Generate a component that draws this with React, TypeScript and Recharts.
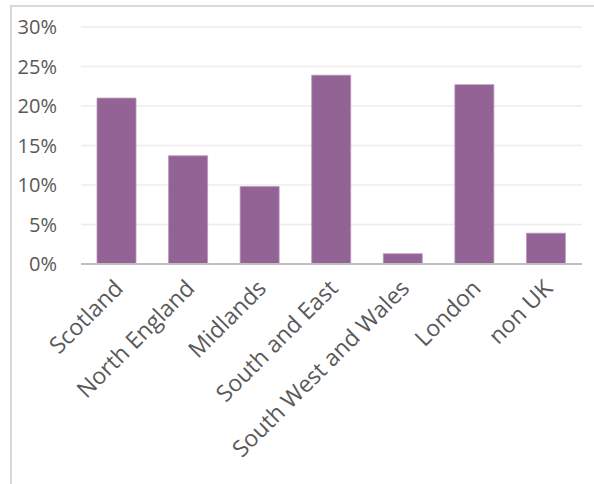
import React from "react";
import { BarChart, Bar, XAxis, YAxis, CartesianGrid } from "recharts";

const categories = ["Scotland", "North England", "Midlands", "South and East", "South West and Wales", "London", "non UK"];
const shares = [0.21, 0.137, 0.098, 0.239, 0.013, 0.227, 0.039];
const yTicks = [0, 0.05, 0.1, 0.15, 0.2, 0.25, 0.3];

const data = categories.map((name, i) => ({ name, value: shares[i] }));

const FONT = "'Open Sans', Lato, sans-serif";

const XTick = (props: any) => {
  const { x, y, payload } = props;
  return (
    <g transform={`translate(${x + 2},${y + 12}) rotate(-45)`}>
      <text x={0} y={0} dy="0.35em" textAnchor="end" fill="#595959" fontSize={23} fontFamily={FONT}>
        {payload.value}
      </text>
    </g>
  );
};

export default function App() {
  return (
    <div style={{ position: "absolute", left: 0, top: 0, width: 594, height: 484, background: "#fff" }}>
      <div
        style={{
          position: "absolute",
          left: 10,
          top: 5,
          width: 600,
          height: 500,
          borderLeft: "2px solid #d9d9d9",
          borderTop: "2px solid #d9d9d9",
        }}
      />
      <div style={{ position: "absolute", left: 0, top: 0 }}>
        <BarChart
          width={594}
          height={484}
          data={data}
          margin={{ top: 27, right: 12, left: 0, bottom: 0 }}
          barSize={39}
        >
          <CartesianGrid vertical={false} stroke="#ececec" strokeWidth={1.5} />
          <YAxis
            width={81}
            domain={[0, 0.3]}
            ticks={yTicks}
            tickFormatter={(v: number) => `${Math.round(v * 100)}%`}
            axisLine={false}
            tickLine={false}
            tickSize={0}
            tickMargin={24}
            tick={{ fill: "#595959", fontSize: 20, fontFamily: FONT }}
          />
          <XAxis
            dataKey="name"
            height={220}
            interval={0}
            axisLine={{ stroke: "#bfbfbf", strokeWidth: 2 }}
            tickLine={false}
            tick={<XTick />}
          />
          <Bar dataKey="value" fill="#936396" stroke="#b898ba" strokeWidth={0.8} isAnimationActive={false} />
        </BarChart>
      </div>
    </div>
  );
}
